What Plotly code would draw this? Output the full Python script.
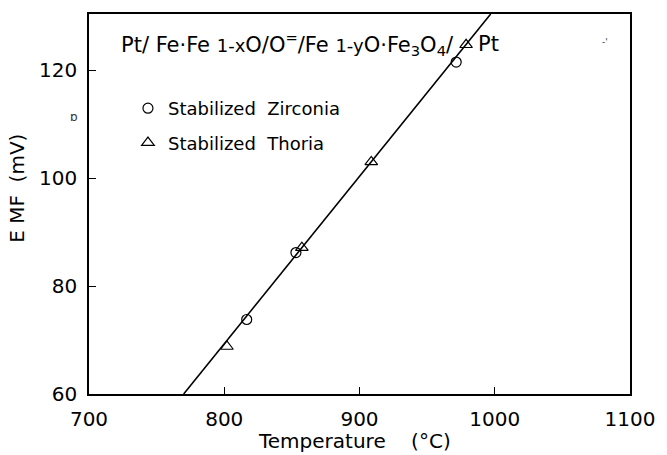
import plotly.graph_objects as go

# Measured EMF of the Fe/FeO | FeO/Fe3O4 cell versus temperature
zirconia_temp = [816.6, 853.0, 971.5]
zirconia_emf = [73.8, 86.2, 121.5]

thoria_temp = [802.0, 857.4, 908.7, 978.8]
thoria_emf = [68.8, 87.1, 103.0, 124.7]

# End points of the fitted straight line
fit_temp = [770.0, 997.0]
fit_emf = [60.0, 130.4]

x_ticks = [700, 800, 900, 1000, 1100]
y_ticks = [60, 80, 100, 120]

FONT = "DejaVu Sans"
INK = "black"

fig = go.Figure()

fig.add_trace(go.Scatter(
    x=fit_temp, y=fit_emf, mode="lines",
    line=dict(color=INK, width=1.6),
    showlegend=False, hoverinfo="skip",
))

fig.add_trace(go.Scatter(
    x=zirconia_temp, y=zirconia_emf, mode="markers",
    name="Stabilized  Zirconia", legendgroup="zr",
    marker=dict(symbol="circle-open", size=10, color=INK,
                line=dict(color=INK, width=1.2)),
))

fig.add_trace(go.Scatter(
    x=thoria_temp, y=thoria_emf, mode="markers",
    name="Stabilized  Thoria", legendgroup="th",
    marker=dict(symbol="triangle-up-open", size=11, color=INK,
                line=dict(color=INK, width=1.2)),
))

# cell notation written across the top of the frame
cell_left = ("Pt/ Fe·Fe <span style='font-size:18px'>1-x</span>O/O<sup>=</sup>/"
             "Fe <span style='font-size:18px'>1-y</span>O·"
             "Fe<sub>3</sub>O<sub>4</sub>/")
fig.add_annotation(
    text=cell_left, xref="paper", yref="paper", x=0.056, y=0.922,
    xanchor="left", yanchor="middle", showarrow=False,
    font=dict(family=FONT, size=21, color=INK),
)
fig.add_annotation(
    text="Pt", xref="paper", yref="paper", x=0.762, y=0.922,
    xanchor="right", yanchor="middle", showarrow=False,
    font=dict(family=FONT, size=21, color=INK),
)

# small stray marks on the sheet
fig.add_annotation(text="ɒ", xref="paper", yref="paper", x=-0.038, y=0.752,
                   showarrow=False, font=dict(family=FONT, size=12, color="#333"))
fig.add_annotation(text="-'", xref="paper", yref="paper", x=0.963, y=0.946,
                   showarrow=False, font=dict(family=FONT, size=9, color="#333"))

# axis titles
fig.add_annotation(
    text="Temperature    (°C)", xref="paper", yref="paper",
    x=0.49, y=-0.124, xanchor="center", yanchor="middle", showarrow=False,
    font=dict(family=FONT, size=20, color=INK),
)
fig.add_annotation(
    text="E MF  (mV)", xref="paper", yref="paper", textangle=-90,
    x=-0.133, y=0.54, xanchor="center", yanchor="middle", showarrow=False,
    font=dict(family=FONT, size=20, color=INK),
)

axis_common = dict(
    showline=True, linecolor=INK, linewidth=1.5, mirror=True,
    ticks="inside", ticklen=7, tickwidth=1.2, tickcolor=INK,
    showgrid=False, zeroline=False,
    tickfont=dict(family=FONT, size=20, color=INK),
)

fig.update_xaxes(range=[700, 1100], tickvals=x_ticks, ticklabelstandoff=6,
                 **axis_common)
fig.update_yaxes(range=[60, 130.4], tickvals=y_ticks, ticklabelstandoff=6,
                 **axis_common)

fig.update_layout(
    width=667, height=455,
    margin=dict(l=89, r=29, t=12, b=61),
    paper_bgcolor="white", plot_bgcolor="white",
    showlegend=True,
    legend=dict(
        x=0.072, y=0.80, xanchor="left", yanchor="top",
        traceorder="grouped", tracegroupgap=8,
        bgcolor="rgba(0,0,0,0)", borderwidth=0,
        font=dict(family=FONT, size=18, color=INK),
        itemwidth=30,
    ),
)

fig.write_html("out.html")
